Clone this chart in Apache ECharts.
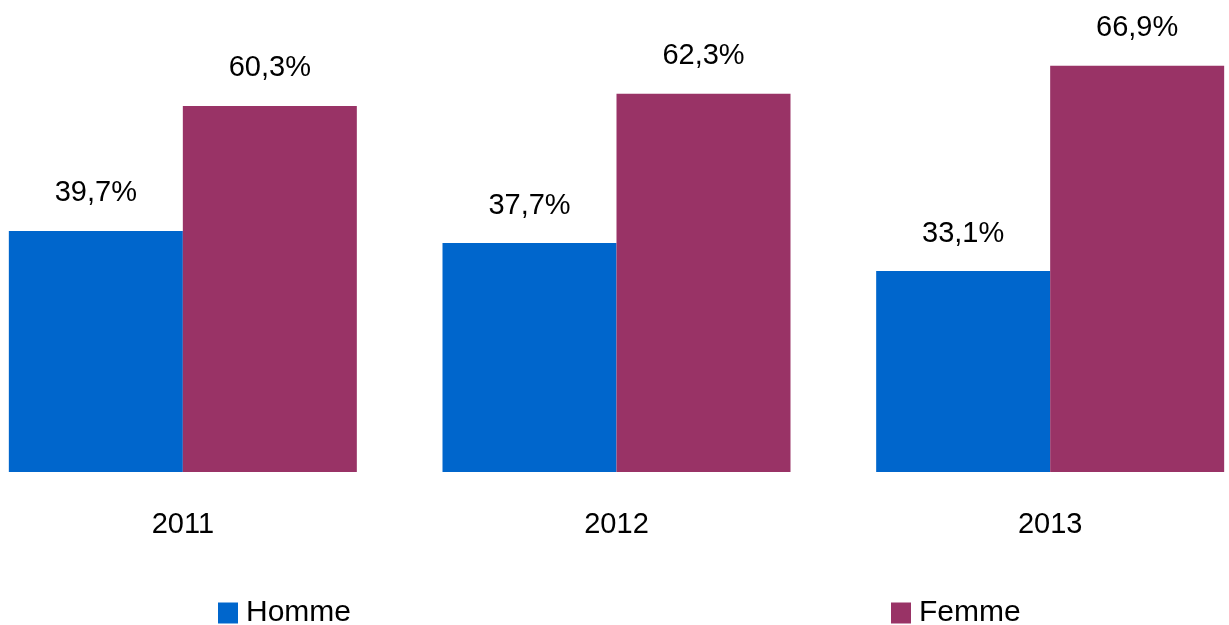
<!DOCTYPE html>
<html><head><meta charset="utf-8">
<script src="https://cdn.jsdelivr.net/npm/echarts@6/dist/echarts.min.js"></script>
<style>html,body{margin:0;padding:0;background:#fff;overflow:hidden;width:1229px;height:625px;position:relative}
#c{position:absolute;left:-34px;top:0;width:1301px;height:625px}</style>
</head><body><div id="c"></div>
<script>
const categories = ['2011', '2012', '2013'];
const homme = [39.7, 37.7, 33.1];
const femme = [60.3, 62.3, 66.9];
const seriesNames = ['Homme', 'Femme'];

const font = 'Liberation Sans, Arial, sans-serif';
const fmt = p => p.value.toFixed(1).replace('.', ',') + '%';
const chart = echarts.init(document.getElementById('c'));
const legendText = { fontSize: 30, color: '#000', fontFamily: font, padding: [0, 0, 0, 3] };
chart.setOption({
  animation: false,
  backgroundColor: '#fff',
  grid: { left: 0, right: 0, top: 47, bottom: 153 },
  xAxis: {
    type: 'category', data: categories,
    axisLine: { show: false }, axisTick: { show: false },
    axisLabel: { margin: 38, fontSize: 29, color: '#000', fontFamily: font }
  },
  yAxis: { type: 'value', min: 0, max: 70, show: false, splitLine: { show: false } },
  legend: [
    { data: [seriesNames[0]], left: 247, top: 593, itemWidth: 20, itemHeight: 21,
      textStyle: legendText, icon: 'rect' },
    { data: [seriesNames[1]], left: 920, top: 593, itemWidth: 20, itemHeight: 21,
      textStyle: legendText, icon: 'rect' }
  ],
  series: [
    { name: seriesNames[0], type: 'bar', data: homme, barWidth: 174, barGap: '0%',
      itemStyle: { color: '#0066CC' },
      label: { show: true, position: 'top', distance: 23, formatter: fmt, fontSize: 29, color: '#000', fontFamily: font } },
    { name: seriesNames[1], type: 'bar', data: femme, barWidth: 174, barGap: '0%',
      itemStyle: { color: '#993366' },
      label: { show: true, position: 'top', distance: 23, formatter: fmt, fontSize: 29, color: '#000', fontFamily: font } }
  ]
});
</script></body></html>
